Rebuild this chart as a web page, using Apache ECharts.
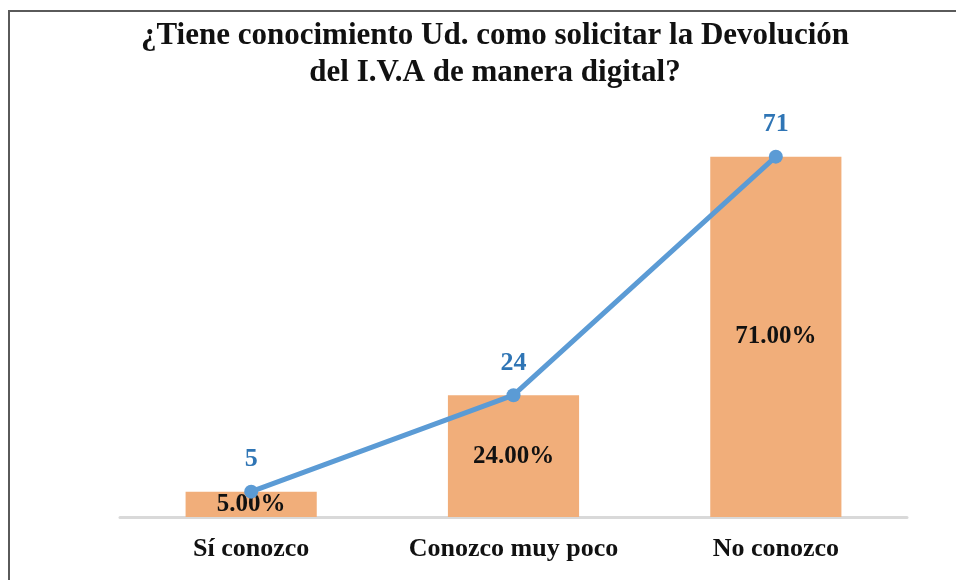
<!DOCTYPE html>
<html>
<head>
<meta charset="utf-8">
<script src="https://cdn.jsdelivr.net/npm/echarts@6/dist/echarts.min.js"></script>
<style>
  html, body { margin: 0; padding: 0; background: #fff; }
  #panel { width: 956px; height: 580px; }
</style>
</head>
<body>
<div id="panel"></div>
<script>
var categories = ['Sí conozco', 'Conozco muy poco', 'No conozco'];
var percentValues = [5, 24, 71];
var countValues = [5, 24, 71];

var serif = '"Liberation Serif", "Times New Roman", serif';

var myChart = echarts.init(document.getElementById('panel'));
myChart.setOption({
    backgroundColor: '#ffffff',
    animation: false,
    title: {
        text: '¿Tiene conocimiento Ud. como solicitar la Devolución\ndel I.V.A de manera digital?',
        left: 490,
        top: 12,
        textAlign: 'center',
        textStyle: {
            fontFamily: serif,
            fontWeight: 'bold',
            fontSize: 31,
            lineHeight: 37,
            color: '#111111'
        }
    },
    graphic: [{
        type: 'rect',
        shape: { x: 9, y: 11, width: 1000, height: 1000 },
        style: { fill: 'none', stroke: '#5a5a5a', lineWidth: 2 },
        silent: true
    }],
    grid: { left: 120, right: 49, top: 111, bottom: 63 },
    xAxis: {
        type: 'category',
        data: categories,
        axisLine: { lineStyle: { color: '#d9d9d9', width: 3 } },
        axisTick: { show: false },
        axisLabel: {
            interval: 0,
            hideOverlap: false,
            margin: 19,
            fontFamily: serif,
            fontWeight: 'bold',
            fontSize: 26,
            color: '#111111'
        }
    },
    yAxis: {
        type: 'value',
        min: 0,
        max: 80,
        show: false,
        splitLine: { show: false }
    },
    series: [{
        name: 'porcentaje',
        type: 'bar',
        data: percentValues,
        barWidth: '50%',
        itemStyle: { color: '#f1ae7a' },
        label: {
            show: true,
            position: 'inside',
            formatter: function (p) { return p.value.toFixed(2) + '%'; },
            fontFamily: serif,
            fontWeight: 'bold',
            fontSize: 25,
            color: '#111111'
        }
    }, {
        name: 'frecuencia',
        type: 'line',
        data: countValues,
        symbol: 'circle',
        symbolSize: 14,
        lineStyle: { color: '#5b9bd5', width: 5 },
        itemStyle: { color: '#5b9bd5' },
        label: {
            show: true,
            position: 'top',
            distance: 12,
            fontFamily: serif,
            fontWeight: 'bold',
            fontSize: 26,
            color: '#2f75b5'
        },
        z: 3
    }]
});
</script>
</body>
</html>
